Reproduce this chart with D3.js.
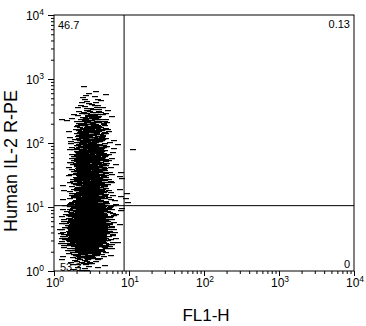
<!DOCTYPE html>
<html><head><meta charset="utf-8">
<script src="https://cdn.jsdelivr.net/npm/d3@7"></script>
<style>body{margin:0;background:#fff}svg{display:block}text{font-family:"Liberation Sans",Arial,sans-serif;fill:#000}</style>
</head><body>
<svg id="c" width="366" height="326"></svg>
<script>
// Density of events: rows = log10(y) bins of 0.1 starting at 0, cols = log10(x) bins of 0.1 starting at 0
const densityRows = [
 [0,0,1,2,3,1,0,0,0,0],
 [0,1,3,5,6,4,1,0,0,0],
 [0,1,4,11,14,11,4,1,0,0],
 [0,2,8,20,25,20,8,2,0,0],
 [1,4,14,28,34,28,14,4,1,0],
 [1,5,19,34,40,34,19,5,1,0],
 [1,5,19,36,42,36,22,6,1,0],
 [0,4,16,34,40,36,22,6,1,0],
 [0,3,14,31,36,34,19,5,1,0],
 [0,2,11,25,34,31,16,5,1,1],
 [0,1,7,20,28,25,12,4,1,1],
 [0,1,5,17,25,22,11,3,1,1],
 [0,1,4,14,22,20,10,2,0,1],
 [0,1,4,14,22,21,10,2,0,0],
 [0,0,4,15,24,22,10,2,1,0],
 [0,0,4,17,25,24,11,2,0,0],
 [0,0,4,17,25,24,11,2,1,0],
 [0,0,4,17,25,22,11,2,0,0],
 [0,0,3,14,22,21,10,2,0,0],
 [0,0,3,13,21,20,10,2,1,0],
 [0,0,3,11,20,18,8,2,0,0],
 [0,0,1,10,18,17,8,1,0,0],
 [0,0,1,8,15,14,7,1,0,0],
 [0,1,1,5,12,11,5,1,0,0],
 [0,0,1,4,9,8,4,1,0,0],
 [0,0,0,2,5,5,2,1,0,0],
 [0,0,0,1,3,3,1,0,0,0],
 [0,0,0,1,2,1,1,0,0,0],
 [0,0,0,0,1,1,0,0,0,0]
];
const outliers = [[11.4,82],[1.28,240],[7.9,15],[8.1,28],[7.8,35],[7.6,19]];
const quadX = 8.6, quadY = 10.5;
const quadLabels = ["46.7","0.13","53.3","0"];
const tickValues = [1,10,100,1000,10000];
const tickExps = ["0","1","2","3","4"];
const xTitle = "FL1-H", yTitle = "Human IL-2 R-PE";

const svg = d3.select("#c");
const L=54,R=354,T=15,B=271;
const x = d3.scaleLog().domain([1,1e4]).range([L,R]);
const y = d3.scaleLog().domain([1,1e4]).range([B,T]);

// quadrant labels (under dots)
svg.append("text").attr("x",58).attr("y",29).attr("font-size",11).text(quadLabels[0]);
svg.append("text").attr("x",350).attr("y",28).attr("font-size",11).attr("text-anchor","end").text(quadLabels[1]);
svg.append("text").attr("x",60).attr("y",271).attr("font-size",11).text(quadLabels[2]);
svg.append("text").attr("x",350).attr("y",268).attr("font-size",11).attr("text-anchor","end").text(quadLabels[3]);

// events
function halton(i,b){let f=1,r=0;while(i>0){f/=b;r+=f*(i%b);i=Math.floor(i/b);}return r;}
const pts=[];let idx=1;
densityRows.forEach((row,r)=>row.forEach((n,c)=>{
  for(let k=0;k<n;k++){const u=halton(idx,2),v=halton(idx,3);idx++;
    pts.push([Math.pow(10,(c+u)*0.1),Math.pow(10,(r+v)*0.1)]);}
}));
outliers.forEach(p=>pts.push(p));
svg.append("g").selectAll("rect").data(pts).join("rect")
  .attr("x",d=>Math.round(x(d[0])-3)).attr("y",d=>Math.round(y(d[1])))
  .attr("width",6).attr("height",1.2).attr("fill","#000");

// quadrant lines
svg.append("line").attr("x1",x(quadX)).attr("x2",x(quadX)).attr("y1",T).attr("y2",B).attr("stroke","#000").attr("stroke-width",1);
svg.append("line").attr("x1",L).attr("x2",R).attr("y1",y(quadY)).attr("y2",y(quadY)).attr("stroke","#000").attr("stroke-width",1);

// frame
svg.append("rect").attr("x",L).attr("y",T).attr("width",R-L).attr("height",B-T).attr("fill","none").attr("stroke","#000").attr("stroke-width",1);

// ticks
const minor=[];for(let e=0;e<4;e++)for(let m=2;m<10;m++)minor.push(m*Math.pow(10,e));
const gx=svg.append("g").attr("transform",`translate(0,${B})`);
gx.call(d3.axisBottom(x).tickValues(minor).tickSize(3).tickFormat(""));
gx.select(".domain").remove();
const gx2=svg.append("g").attr("transform",`translate(0,${B})`);
gx2.call(d3.axisBottom(x).tickValues(tickValues).tickSize(5).tickFormat(""));
gx2.select(".domain").remove();
const gy=svg.append("g").attr("transform",`translate(${L},0)`);
gy.call(d3.axisLeft(y).tickValues(minor).tickSize(3).tickFormat(""));
gy.select(".domain").remove();
const gy2=svg.append("g").attr("transform",`translate(${L},0)`);
gy2.call(d3.axisLeft(y).tickValues(tickValues).tickSize(6).tickFormat(""));
gy2.select(".domain").remove();
svg.selectAll(".tick line").attr("stroke","#000");

// tick labels
tickValues.forEach((v,i)=>{
  const t=svg.append("text").attr("x",x(v)+1).attr("y",B+16).attr("font-size",12).attr("text-anchor","middle");
  t.append("tspan").text("10");
  t.append("tspan").attr("font-size",8.5).attr("dy",-5).text(tickExps[i]);
  const t2=svg.append("text").attr("x",L-10).attr("y",y(v)+5).attr("font-size",12).attr("text-anchor","end");
  t2.append("tspan").text("10");
  t2.append("tspan").attr("font-size",8.5).attr("dy",-5).text(tickExps[i]);
});

// titles
svg.append("text").attr("x",206).attr("y",321).attr("font-size",17).attr("text-anchor","middle").text(xTitle);
svg.append("text").attr("transform","translate(17,161) rotate(-90)").attr("font-size",18).attr("text-anchor","middle").text(yTitle);
</script>
</body></html>
